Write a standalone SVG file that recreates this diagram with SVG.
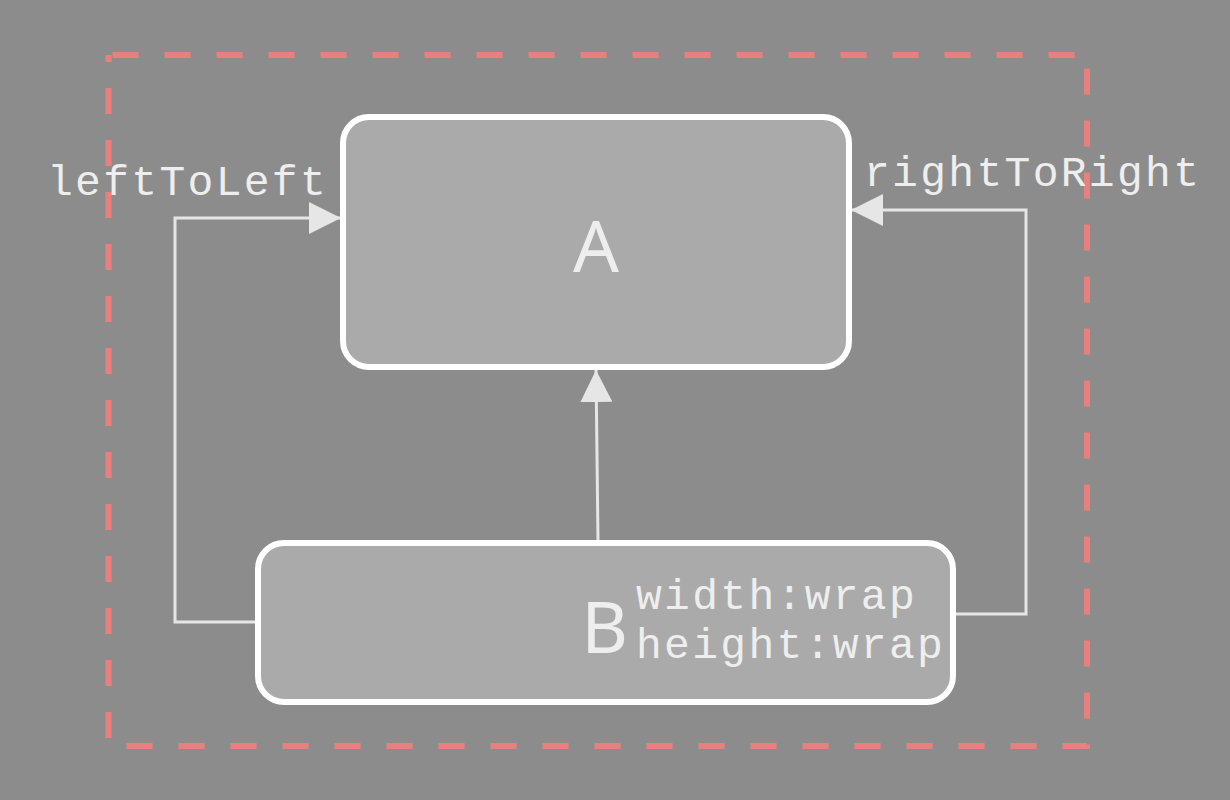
<svg xmlns="http://www.w3.org/2000/svg" width="1230" height="800" viewBox="0 0 1230 800">
<defs>
<style>
.node{fill:#aaaaaa;stroke:#ffffff;stroke-width:6}
.big{font-family:"Noto Sans","DejaVu Sans",sans-serif;font-size:72px;fill:#eeeeee}
.mono{font-family:"Liberation Mono","Courier New",monospace;font-size:43px;letter-spacing:2.3px;fill:#eeeeee}
.conn{fill:none;stroke:#e6e6e6;stroke-width:3}
</style>
<marker id="arr" markerWidth="32" markerHeight="32" refX="32" refY="16" orient="auto" markerUnits="userSpaceOnUse" viewBox="0 0 32 32">
<path d="M0,0 L32,16 L0,32 Z" fill="#e6e6e6"/>
</marker>
</defs>
<rect width="1230" height="800" fill="#8c8c8c"/>
<rect x="108.5" y="55" width="978.5" height="691" fill="none" stroke="#e88080" stroke-width="6" stroke-dasharray="26 26" stroke-dashoffset="-4"/>
<g id="connectors">
<polyline class="conn" points="258,622 175,622 175,218 341,218" marker-end="url(#arr)"/>
<polyline class="conn" points="953,614 1026,614 1026,210 851,210" marker-end="url(#arr)"/>
<line class="conn" x1="598" y1="541" x2="596" y2="370" marker-end="url(#arr)"/>
</g>
<g id="nodeA">
<rect class="node" x="343" y="117" width="506" height="250" rx="26"/>
<text class="big" x="596" y="272" text-anchor="middle">A</text>
</g>
<g id="nodeB">
<rect class="node" x="258" y="543" width="695" height="159" rx="26"/>
<text class="big" x="628" y="653" text-anchor="end">B</text>
<text class="mono" x="636" y="609">width:wrap</text>
<text class="mono" x="636" y="658">height:wrap</text>
</g>
<text class="mono" x="47" y="195">leftToLeft</text>
<text class="mono" x="864" y="186">rightToRight</text>
</svg>
